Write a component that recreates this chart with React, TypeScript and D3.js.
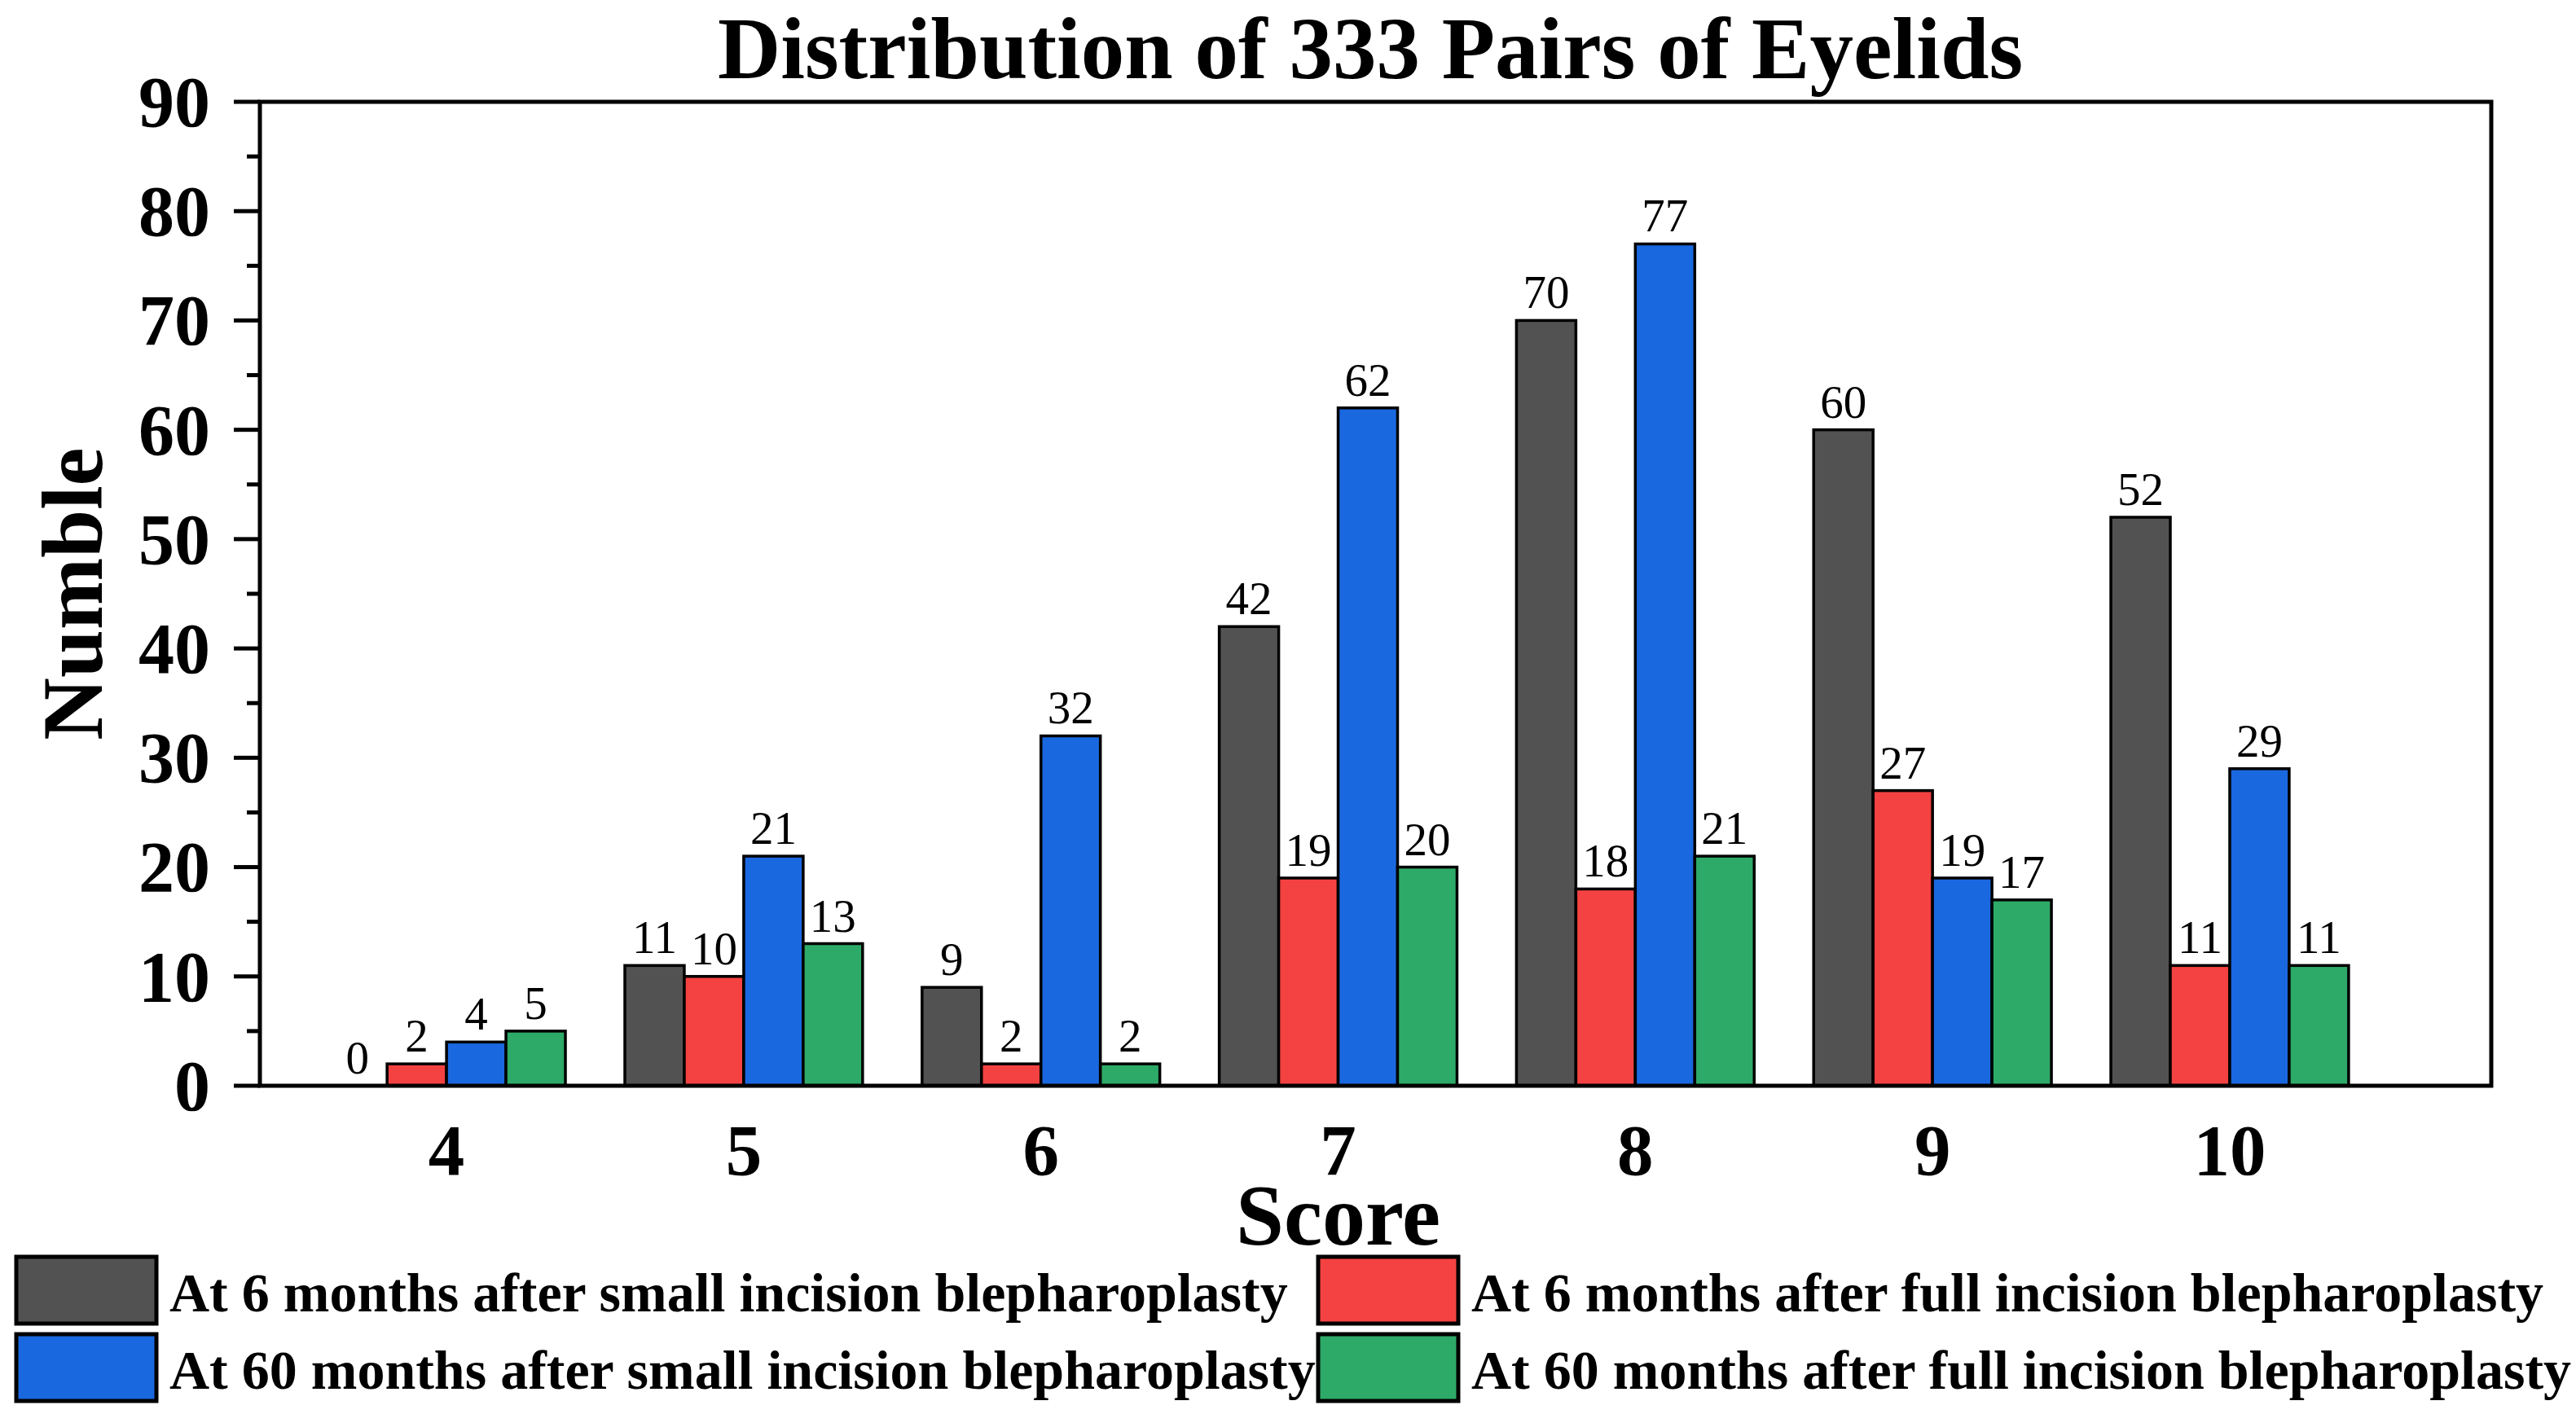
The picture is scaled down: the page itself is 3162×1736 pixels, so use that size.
import React from 'react';
import * as d3 from 'd3';

// scores on the x axis
const scores = [4, 5, 6, 7, 8, 9, 10];

// one array per group, same order as scores
const small6 = [0, 11, 9, 42, 70, 60, 52];
const full6 = [2, 10, 2, 19, 18, 27, 11];
const small60 = [4, 21, 32, 62, 77, 19, 29];
const full60 = [5, 13, 2, 20, 21, 17, 11];

const seriesNames = [
  'At 6 months after small incision blepharoplasty',
  'At 6 months after full incision blepharoplasty',
  'At 60 months after small incision blepharoplasty',
  'At 60 months after full incision blepharoplasty',
];
const seriesColors = ['#525252', '#F44242', '#1A68E0', '#2EAA68'];

const yTicks = [0, 10, 20, 30, 40, 50, 60, 70, 80, 90];
const yMinorTicks = [5, 15, 25, 35, 45, 55, 65, 75, 85];

const W = 3162;
const H = 1736;
const FONT = '"Liberation Serif", "Times New Roman", serif';

const margin = { left: 319, right: 3058, top: 125, bottom: 1333 };

const App: React.FC = () => {
  const series = [small6, full6, small60, full60];

  const x = d3.scaleLinear().domain([3.372, 10.88]).range([margin.left, margin.right]);
  const y = d3.scaleLinear().domain([0, 90]).range([margin.bottom, margin.top]);

  const barW = x(0.2) - x(0);

  // legend layout: 2 columns x 2 rows, filled row by row
  const legendCols = [20, 1618];
  const legendRows = [1543, 1638];

  return (
    <svg
      width={W}
      height={H}
      style={{ position: 'absolute', left: 0, top: 0, background: '#fff' }}
      fontFamily={FONT}
    >
      <rect x={0} y={0} width={W} height={H} fill="#fff" />

      {/* title */}
      <text x={1682} y={96} textAnchor="middle" fontSize={107} fontWeight="bold">
        Distribution of 333 Pairs of Eyelids
      </text>

      {/* bars */}
      {series.map((vals, si) =>
        vals.map((v, i) => {
          const x0 = x(scores[i] - 0.4 + 0.2 * si);
          return (
            <g key={`${si}-${i}`}>
              {v > 0 && (
                <rect
                  x={x0}
                  y={y(v)}
                  width={barW}
                  height={y(0) - y(v)}
                  fill={seriesColors[si]}
                  stroke="#000"
                  strokeWidth={3.5}
                />
              )}
              <text
                x={x0 + barW / 2}
                y={y(v) - 15}
                textAnchor="middle"
                fontSize={57}
              >
                {v}
              </text>
            </g>
          );
        })
      )}

      {/* frame */}
      <rect
        x={margin.left}
        y={margin.top}
        width={margin.right - margin.left}
        height={margin.bottom - margin.top}
        fill="none"
        stroke="#000"
        strokeWidth={5}
      />

      {/* y ticks */}
      {yTicks.map((t) => (
        <g key={t}>
          <line x1={margin.left - 32} x2={margin.left} y1={y(t)} y2={y(t)} stroke="#000" strokeWidth={5} />
          <text x={258} y={y(t)} dy="0.34em" textAnchor="end" fontSize={88} fontWeight="bold">
            {t}
          </text>
        </g>
      ))}
      {yMinorTicks.map((t) => (
        <line key={t} x1={margin.left - 16} x2={margin.left} y1={y(t)} y2={y(t)} stroke="#000" strokeWidth={5} />
      ))}

      {/* x tick labels */}
      {scores.map((s) => (
        <text key={s} x={x(s)} y={1442} textAnchor="middle" fontSize={89} fontWeight="bold">
          {s}
        </text>
      ))}

      {/* axis titles */}
      <text x={x(7)} y={1528} textAnchor="middle" fontSize={106} fontWeight="bold">
        Score
      </text>
      <text
        transform={`translate(125, ${(margin.top + margin.bottom) / 2}) rotate(-90)`}
        textAnchor="middle"
        fontSize={106}
        fontWeight="bold"
      >
        Numble
      </text>

      {/* legend */}
      {seriesNames.map((name, si) => {
        const col = si % 2 === 0 ? 0 : 1;
        const row = si < 2 ? 0 : 1;
        const lx = legendCols[col];
        const ly = legendRows[row];
        return (
          <g key={name}>
            <rect x={lx} y={ly} width={172} height={82} fill={seriesColors[si]} stroke="#000" strokeWidth={5} />
            <text x={lx + 188} y={ly + 67} fontSize={68} fontWeight="bold">
              {name}
            </text>
          </g>
        );
      })}
    </svg>
  );
};

export default App;
